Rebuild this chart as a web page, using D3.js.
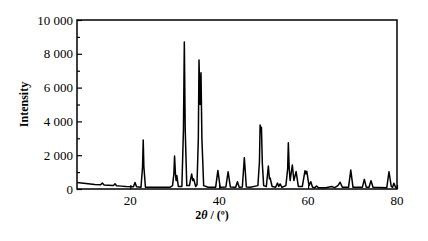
<!DOCTYPE html>
<html>
<head>
<meta charset="utf-8">
<script src="https://cdn.jsdelivr.net/npm/d3@7"></script>
<style>
  body { margin: 0; background: #fff; }
</style>
</head>
<body>
<script>
const width = 428;
const height = 241;
const margin = { top: 20, right: 31, bottom: 52, left: 77 };
const serif = "'Liberation Serif', 'Times New Roman', Times, 'DejaVu Serif', serif";

// pattern vertices (2θ in degrees, counts)
const twoTheta = [
  8, 9, 10, 11, 12, 13.3, 13.7, 14.1, 15, 16.2, 16.55, 16.9, 18, 19,
  20.7, 21.05, 21.4, 22.4, 22.75, 22.9, 23.05, 23.4, 25, 27, 29,
  29.5, 29.8, 29.95, 30.15, 30.3, 30.45, 30.8, 31.6, 31.95, 32.15, 32.35, 32.7,
  33.3, 33.8, 34.05, 34.25, 34.7, 35.0, 35.3, 35.45, 35.7, 35.9, 36.1, 36.5, 37.5,
  39.2, 39.7, 40.2, 41.5, 42.0, 42.5, 43.7, 44.1, 44.5, 45.2, 45.65, 46.1, 47,
  48.7, 49.05, 49.2, 49.35, 49.5, 49.7, 50.0, 50.6, 51.05, 51.3, 51.45, 51.9,
  52.7, 53.1, 53.4, 53.7, 54.1, 55.0, 55.4, 55.55, 55.75, 55.95, 56.45, 56.8, 57.3, 57.8,
  58.7, 59.3, 59.5, 59.7, 60.2, 60.6, 61.0, 61.5, 61.9, 62.3,
  64, 65.3, 66, 66.7, 67.2, 67.7, 69.1, 69.6, 70.1,
  72.2, 72.65, 73.1, 73.7, 74.15, 74.6, 77.7, 78.2, 78.7, 79.0, 79.3, 79.7, 80
];
const intensity = [
  380, 360, 330, 300, 270, 250, 350, 240, 220, 200, 310, 195, 170, 150,
  130, 380, 130, 110, 1300, 2900, 1300, 110, 100, 100, 110,
  200, 900, 1950, 900, 500, 800, 150, 150, 3500, 8700, 3500, 200,
  200, 890, 500, 600, 150, 250, 3000, 7630, 5000, 6880, 3000, 200, 100,
  110, 1100, 110, 120, 1020, 120, 100, 430, 100, 120, 1850, 120, 100,
  200, 1600, 3790, 3400, 3650, 1500, 200, 150, 1360, 600, 650, 150,
  100, 350, 150, 300, 100, 200, 1200, 2740, 1200, 500, 1420, 500, 1030, 150,
  150, 1080, 900, 1050, 200, 430, 100, 80, 180, 80,
  80, 150, 80, 200, 400, 100, 100, 1120, 100,
  100, 570, 100, 100, 490, 100, 80, 1020, 150, 100, 340, 80, 100
];

const xTicks = [20, 40, 60, 80];
const yTicks = [0, 2000, 4000, 6000, 8000, 10000];
const yMinorTicks = [1000, 3000, 5000, 7000, 9000];

const svg = d3.select("body")
  .append("svg")
  .attr("width", width)
  .attr("height", height)
  .attr("font-family", serif);

const x = d3.scaleLinear()
  .domain([8, 80])
  .range([margin.left, width - margin.right]);

const y = d3.scaleLinear()
  .domain([0, 10000])
  .range([height - margin.bottom, margin.top]);

const fmt = v => d3.format(",")(v).replace(/,/g, " ");

// y axis, ticks pointing inward
const yAxis = svg.append("g")
  .attr("transform", `translate(${margin.left},0)`)
  .call(d3.axisRight(y).tickValues(yTicks).tickSize(5).tickFormat(""));
yAxis.select(".domain").remove();
yAxis.selectAll("line").attr("stroke", "#000").attr("stroke-width", 1.2);

const yMinor = svg.append("g")
  .attr("transform", `translate(${margin.left},0)`)
  .call(d3.axisRight(y).tickValues(yMinorTicks).tickSize(3).tickFormat(""));
yMinor.select(".domain").remove();
yMinor.selectAll("line").attr("stroke", "#000").attr("stroke-width", 1.2);

svg.append("g")
  .selectAll("text")
  .data(yTicks)
  .join("text")
  .attr("x", margin.left - 4)
  .attr("y", d => y(d))
  .attr("dy", "0.35em")
  .attr("text-anchor", "end")
  .attr("font-family", serif)
  .attr("font-size", 13)
  .text(fmt);

// x axis
const xAxis = svg.append("g")
  .attr("transform", `translate(0,${height - margin.bottom})`)
  .call(d3.axisTop(x).tickValues(xTicks).tickSize(4).tickFormat(""));
xAxis.select(".domain").remove();
xAxis.selectAll("line").attr("stroke", "#000").attr("stroke-width", 1.2);

svg.append("g")
  .selectAll("text")
  .data(xTicks)
  .join("text")
  .attr("x", d => x(d))
  .attr("y", height - margin.bottom + 16)
  .attr("text-anchor", "middle")
  .attr("font-family", serif)
  .attr("font-size", 13)
  .text(d => d);

// pattern
const pts = twoTheta.map((t, i) => ({ t, v: intensity[i] }));
const line = d3.line()
  .x(d => x(d.t))
  .y(d => y(d.v));

svg.append("path")
  .datum(pts)
  .attr("d", line)
  .attr("fill", "none")
  .attr("stroke", "#000")
  .attr("stroke-width", 1.5)
  .attr("stroke-linejoin", "round");

// frame
svg.append("rect")
  .attr("x", margin.left)
  .attr("y", margin.top)
  .attr("width", width - margin.left - margin.right)
  .attr("height", height - margin.top - margin.bottom)
  .attr("fill", "none")
  .attr("stroke", "#000")
  .attr("stroke-width", 1.5);

// labels
svg.append("text")
  .attr("transform", `translate(28,${(margin.top + height - margin.bottom) / 2}) rotate(-90)`)
  .attr("text-anchor", "middle")
  .attr("font-family", serif)
  .attr("font-size", 12)
  .attr("font-weight", "bold")
  .text("Intensity");

const xl = svg.append("text")
  .attr("x", 212)
  .attr("y", 219)
  .attr("text-anchor", "middle")
  .attr("font-family", serif)
  .attr("font-size", 12)
  .attr("font-weight", "bold");
xl.append("tspan").text("2");
xl.append("tspan").attr("font-style", "italic").text("θ");
xl.append("tspan").text(" / (º)");
</script>
</body>
</html>
